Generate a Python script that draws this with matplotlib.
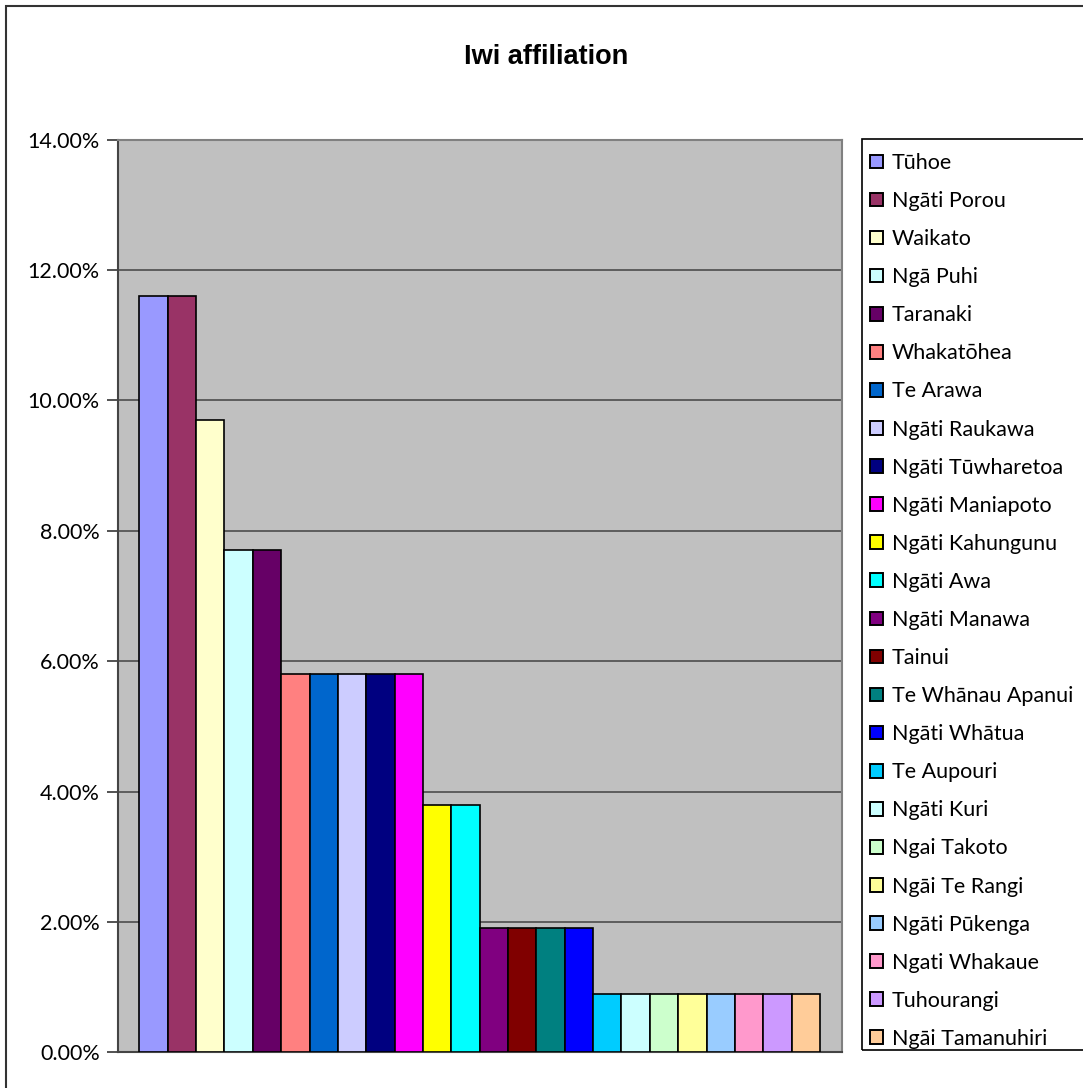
import matplotlib.pyplot as plt
from matplotlib.patches import Rectangle, Patch
from matplotlib.ticker import FuncFormatter
import numpy as np

iwi = ['Tūhoe', 'Ngāti Porou', 'Waikato', 'Ngā Puhi', 'Taranaki', 'Whakatōhea',
       'Te Arawa', 'Ngāti Raukawa', 'Ngāti Tūwharetoa', 'Ngāti Maniapoto',
       'Ngāti Kahungunu', 'Ngāti Awa', 'Ngāti Manawa', 'Tainui',
       'Te Whānau Apanui', 'Ngāti Whātua', 'Te Aupouri', 'Ngāti Kuri',
       'Ngai Takoto', 'Ngāi Te Rangi', 'Ngāti Pūkenga', 'Ngati Whakaue',
       'Tuhourangi', 'Ngāi Tamanuhiri']
share = [11.6, 11.6, 9.7, 7.7, 7.7, 5.8, 5.8, 5.8, 5.8, 5.8, 3.8, 3.8,
         1.9, 1.9, 1.9, 1.9, 0.9, 0.9, 0.9, 0.9, 0.9, 0.9, 0.9, 0.9]
colours = ['#9999FF', '#993366', '#FFFFCC', '#CCFFFF', '#660066', '#FF8080',
           '#0066CC', '#CCCCFF', '#000080', '#FF00FF', '#FFFF00', '#00FFFF',
           '#800080', '#800000', '#008080', '#0000FF', '#00CCFF', '#CCFFFF',
           '#CCFFCC', '#FFFF99', '#99CCFF', '#FF99CC', '#CC99FF', '#FFCC99']

plt.rcParams['font.family'] = ['Lato', 'DejaVu Sans']

W, H = 1083, 1088
fig = plt.figure(figsize=(W / 100, H / 100), dpi=100)

# outer chart border (runs off the right and bottom edges)
fig.patches.append(Rectangle((6 / W, -0.1), 1.2, 1 - 6 / H + 0.1,
                             transform=fig.transFigure, fill=False,
                             edgecolor='#333333', lw=1.5))

ax = fig.add_axes([117.7 / W, 1 - 1052.3 / H, (841.7 - 117.7) / W,
                   (1052.3 - 139.5) / H])
ax.set_facecolor('#C0C0C0')

x = np.arange(len(iwi))
bars = ax.bar(x, share, width=1.0, color=colours, edgecolor='black',
              linewidth=1.2, zorder=3)

ax.set_xlim(-1.265, len(iwi) - 1 + 1.265)
ax.set_ylim(0, 14)
ax.set_yticks(np.arange(0, 15, 2))
ax.yaxis.set_major_formatter(FuncFormatter(lambda v, p: f'{v:.2f}%'))
ax.grid(axis='y', color='#555555', lw=1.3, zorder=1)
ax.set_xticks([])
ax.tick_params(axis='y', direction='out', length=8, width=1.3,
               color='#444444', pad=5, labelsize=15.5)

for side in ['top', 'right']:
    ax.spines[side].set_color('#808080')
    ax.spines[side].set_linewidth(1.5)
for side in ['left', 'bottom']:
    ax.spines[side].set_color('#444444')
    ax.spines[side].set_linewidth(1.5)

fig.text(546 / W, 1 - 57 / H, 'Iwi affiliation', ha='center', va='center',
         fontsize=19.5, fontweight='bold', family='Liberation Sans')

# legend box (also runs off the right edge)
fig.patches.append(Rectangle((861.7 / W, 1 - 1050 / H), 0.3,
                             (1050 - 139.3) / H, transform=fig.transFigure,
                             fill=False, edgecolor='black', lw=1.2))
handles = [Patch(facecolor=c, edgecolor='black', linewidth=1.4) for c in colours]
fig.legend(handles, iwi, loc='upper left',
           bbox_to_anchor=(870 / W, 1 - 153 / H),
           frameon=False, fontsize=15.5, handlelength=0.6, handleheight=0.6,
           handletextpad=0.42, labelspacing=0.84, borderpad=0, borderaxespad=0)

fig.savefig('out.png', dpi=100)
